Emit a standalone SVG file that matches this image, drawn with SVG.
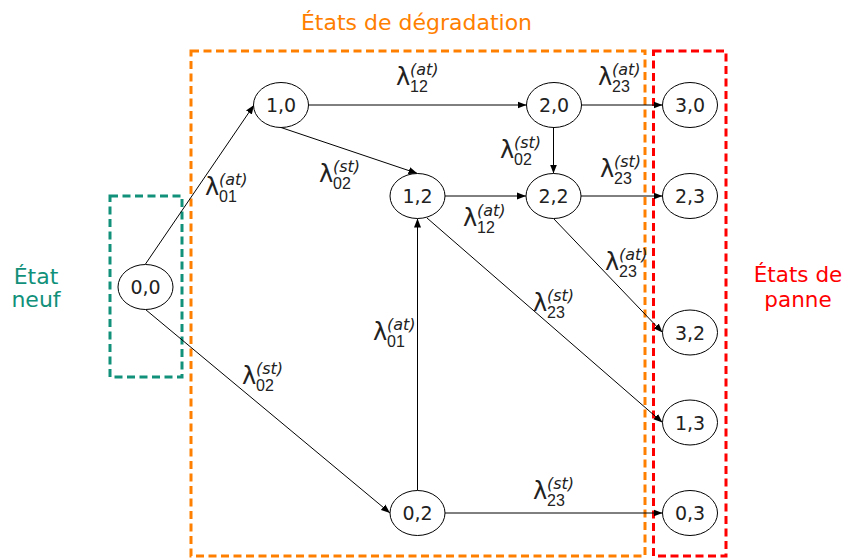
<svg xmlns="http://www.w3.org/2000/svg" width="848" height="559" viewBox="0 0 848 559">
<defs>
<marker id="arr" markerUnits="userSpaceOnUse" markerWidth="10" markerHeight="8" refX="9" refY="4" orient="auto">
<path d="M0,0.5 L9,4 L0,7.5 Z" fill="#000"/>
</marker>
<style>
.box{fill:none;stroke-width:3;stroke-dasharray:8 4.5}
.node ellipse{fill:#fff;stroke:#000;stroke-width:1}
.node text{font-family:"DejaVu Sans",sans-serif;font-size:19px;text-anchor:middle;fill:#222}
.edge{stroke:#000;stroke-width:1;fill:none;marker-end:url(#arr)}
.lam{font-family:"DejaVu Sans",sans-serif;font-size:24px;fill:#222}
.sub{font-family:"Liberation Sans",sans-serif;font-size:16px;fill:#222}
.sup{font-family:"DejaVu Sans",sans-serif;font-style:italic;font-size:16px;fill:#222}
.title{font-family:"DejaVu Sans",sans-serif;font-size:22px;text-anchor:middle}
</style>
</defs>
<rect width="848" height="559" fill="#fff"/>

<g id="groups">
<rect class="box" x="110" y="196" width="72" height="181" stroke="#11907a"/>
<rect class="box" x="191" y="51" width="454" height="505" stroke="#ff8000"/>
<rect class="box" x="653.5" y="51" width="72.5" height="505" stroke="#ff0000"/>
</g>

<g id="titles">
<text class="title" x="416.5" y="30" fill="#ff8000">États de dégradation</text>
<text class="title" x="36" y="284" fill="#11907a">État</text>
<text class="title" x="36" y="307" fill="#11907a">neuf</text>
<text class="title" x="798" y="281.5" fill="#ff0000" style="font-size:21.5px">États de</text>
<text class="title" x="798" y="306.5" fill="#ff0000" style="font-size:21.5px">panne</text>
</g>

<g id="connectors">
<line class="edge" x1="145.5" y1="264" x2="254" y2="105"/>
<line class="edge" x1="145.5" y1="309.5" x2="390" y2="513"/>
<line class="edge" x1="308.5" y1="105" x2="526.5" y2="105"/>
<line class="edge" x1="281" y1="127.5" x2="417.5" y2="173.5"/>
<line class="edge" x1="581.5" y1="105" x2="662.5" y2="105"/>
<line class="edge" x1="553.5" y1="127.5" x2="553.5" y2="173.5"/>
<line class="edge" x1="445" y1="196" x2="526" y2="196"/>
<line class="edge" x1="581" y1="196" x2="662.5" y2="196"/>
<line class="edge" x1="553.5" y1="218.5" x2="662.5" y2="332.5"/>
<line class="edge" x1="427" y1="218" x2="662.5" y2="422.5"/>
<line class="edge" x1="417.5" y1="490.5" x2="417.5" y2="218.5"/>
<line class="edge" x1="445" y1="513" x2="662.5" y2="513"/>
</g>

<g id="labels">
<g><text class="lam" x="396" y="85">λ</text><text class="sup" x="410" y="75">(at)</text><text class="sub" x="410" y="92">12</text></g>
<g><text class="lam" x="598" y="85">λ</text><text class="sup" x="612" y="75">(at)</text><text class="sub" x="612" y="92">23</text></g>
<g><text class="lam" x="205" y="195">λ</text><text class="sup" x="219" y="185">(at)</text><text class="sub" x="219" y="202">01</text></g>
<g><text class="lam" x="319" y="182">λ</text><text class="sup" x="333" y="172">(st)</text><text class="sub" x="333" y="189">02</text></g>
<g><text class="lam" x="500" y="158">λ</text><text class="sup" x="514" y="148">(st)</text><text class="sub" x="514" y="165">02</text></g>
<g><text class="lam" x="600" y="177">λ</text><text class="sup" x="614" y="167">(st)</text><text class="sub" x="614" y="184">23</text></g>
<g><text class="lam" x="463" y="226">λ</text><text class="sup" x="477" y="216">(at)</text><text class="sub" x="477" y="233">12</text></g>
<g><text class="lam" x="605" y="270">λ</text><text class="sup" x="619" y="260">(at)</text><text class="sub" x="619" y="277">23</text></g>
<g><text class="lam" x="533" y="311">λ</text><text class="sup" x="547" y="301">(st)</text><text class="sub" x="547" y="318">23</text></g>
<g><text class="lam" x="373" y="340">λ</text><text class="sup" x="387" y="330">(at)</text><text class="sub" x="387" y="347">01</text></g>
<g><text class="lam" x="242" y="384">λ</text><text class="sup" x="256" y="374">(st)</text><text class="sub" x="256" y="391">02</text></g>
<g><text class="lam" x="533" y="499">λ</text><text class="sup" x="547" y="489">(st)</text><text class="sub" x="547" y="506">23</text></g>
</g>

<g id="n00" class="node"><ellipse cx="145.5" cy="287" rx="27.5" ry="22.5"/><text x="145.5" y="294">0,0</text></g>
<g id="n10" class="node"><ellipse cx="281" cy="105" rx="27.5" ry="22.5"/><text x="281" y="112">1,0</text></g>
<g id="n20" class="node"><ellipse cx="554" cy="105" rx="27.5" ry="22.5"/><text x="554" y="112">2,0</text></g>
<g id="n30" class="node"><ellipse cx="690" cy="105" rx="27.5" ry="22.5"/><text x="690" y="112">3,0</text></g>
<g id="n12" class="node"><ellipse cx="417.5" cy="196" rx="27.5" ry="22.5"/><text x="417.5" y="203">1,2</text></g>
<g id="n22" class="node"><ellipse cx="553.5" cy="196" rx="27.5" ry="22.5"/><text x="553.5" y="203">2,2</text></g>
<g id="n23" class="node"><ellipse cx="690" cy="196" rx="27.5" ry="22.5"/><text x="690" y="203">2,3</text></g>
<g id="n32" class="node"><ellipse cx="690" cy="332.5" rx="27.5" ry="22.5"/><text x="690" y="339.5">3,2</text></g>
<g id="n13" class="node"><ellipse cx="690" cy="422.5" rx="27.5" ry="22.5"/><text x="690" y="429.5">1,3</text></g>
<g id="n02" class="node"><ellipse cx="417.5" cy="513" rx="27.5" ry="22.5"/><text x="417.5" y="520">0,2</text></g>
<g id="n03" class="node"><ellipse cx="690" cy="513" rx="27.5" ry="22.5"/><text x="690" y="520">0,3</text></g>
</svg>
